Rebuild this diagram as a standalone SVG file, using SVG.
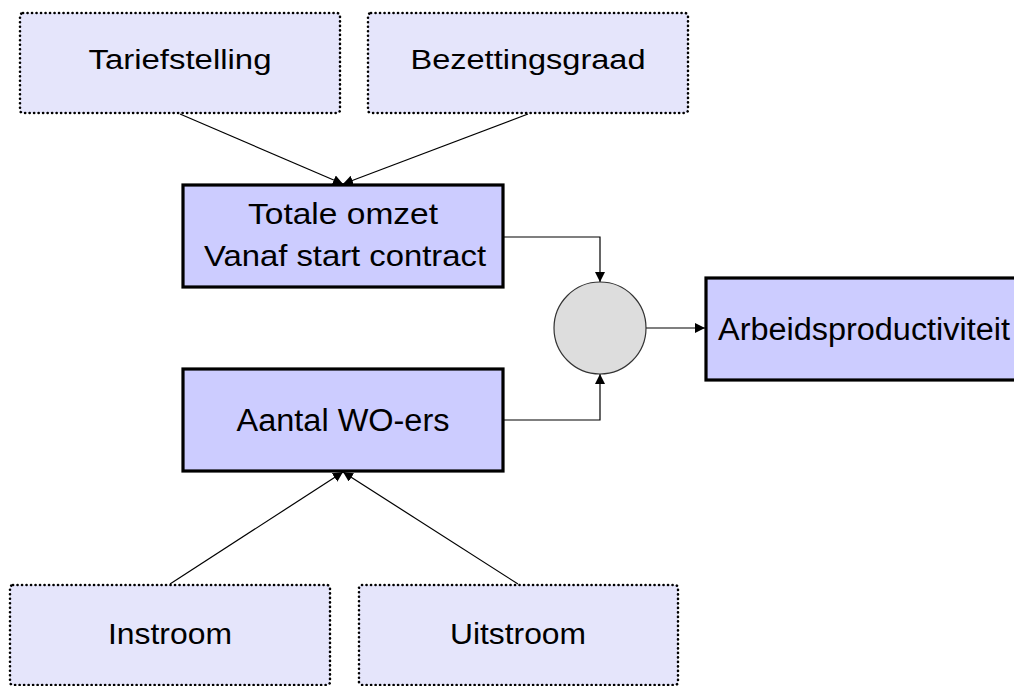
<svg xmlns="http://www.w3.org/2000/svg" width="1014" height="686" viewBox="0 0 1014 686">
<defs>
<marker id="arr" viewBox="0 0 10 10" refX="10" refY="5" markerWidth="10" markerHeight="10" markerUnits="userSpaceOnUse" orient="auto">
<path d="M0,0 L10,5 L0,10 z" fill="#000"/>
</marker>
</defs>
<style>
.dot{fill:#e5e5fb;stroke:#000;stroke-width:2.6;stroke-dasharray:0.1 4.4;stroke-linecap:round}
.solid{fill:#ccccff;stroke:#000;stroke-width:3.2}
.t{font-family:"Liberation Sans",Arial,sans-serif;font-size:27px;fill:#000;text-anchor:middle}
.m{font-size:29.5px}
.l{font-size:31px}
.c{fill:none;stroke:#000;stroke-width:1.2;marker-end:url(#arr)}
</style>
<rect width="1014" height="686" fill="#fff"/>
<g id="connectors">
<line class="c" x1="180" y1="114" x2="343" y2="184"/>
<line class="c" x1="528" y1="114" x2="343" y2="184"/>
<line class="c" x1="170" y1="584" x2="343" y2="472"/>
<line class="c" x1="518" y1="584" x2="343" y2="472"/>
<polyline class="c" points="503,237 600,237 600,282"/>
<polyline class="c" points="503,420 600,420 600,374"/>
<line class="c" x1="646" y1="328" x2="705" y2="328"/>
</g>
<g id="tariefstelling">
<rect class="dot" x="20" y="13" width="320" height="100" rx="3"/>
<text class="t" x="180" y="69" textLength="183" lengthAdjust="spacingAndGlyphs">Tariefstelling</text>
</g>
<g id="bezettingsgraad">
<rect class="dot" x="368" y="13" width="320" height="100" rx="3"/>
<text class="t" x="528" y="69" textLength="235" lengthAdjust="spacingAndGlyphs">Bezettingsgraad</text>
</g>
<g id="totale-omzet">
<rect class="solid" x="183" y="185" width="320" height="102"/>
<text class="t m" x="343" y="224" textLength="190" lengthAdjust="spacingAndGlyphs">Totale omzet</text>
<text class="t m" x="345" y="266" textLength="282" lengthAdjust="spacingAndGlyphs">Vanaf start contract</text>
</g>
<g id="aantal-wo-ers">
<rect class="solid" x="183" y="369" width="320" height="102"/>
<text class="t l" x="343" y="431" textLength="213" lengthAdjust="spacingAndGlyphs">Aantal WO-ers</text>
</g>
<g id="circle">
<circle cx="600" cy="328" r="46" fill="#dddddd" stroke="#333" stroke-width="1.2"/>
</g>
<g id="arbeidsproductiviteit">
<rect class="solid" x="706" y="278" width="320" height="102"/>
<text class="t l" x="864" y="340" textLength="292" lengthAdjust="spacingAndGlyphs">Arbeidsproductiviteit</text>
</g>
<g id="instroom">
<rect class="dot" x="10" y="585" width="320" height="100" rx="3"/>
<text class="t m" x="170" y="644" textLength="124" lengthAdjust="spacingAndGlyphs">Instroom</text>
</g>
<g id="uitstroom">
<rect class="dot" x="359" y="585" width="319" height="100" rx="3"/>
<text class="t m" x="518" y="644" textLength="136" lengthAdjust="spacingAndGlyphs">Uitstroom</text>
</g>
</svg>
